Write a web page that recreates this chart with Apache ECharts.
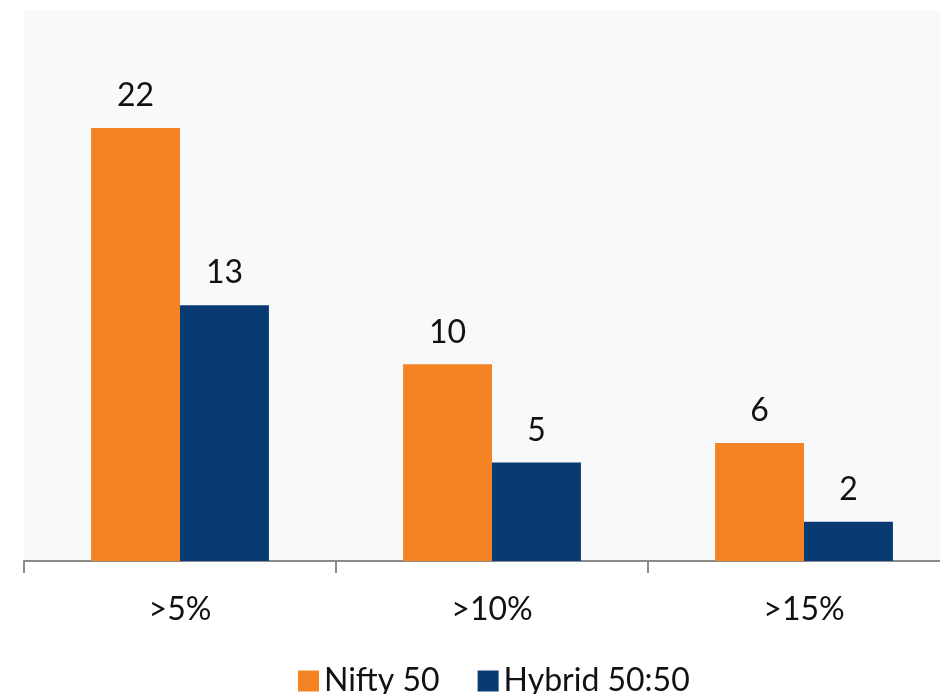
<!DOCTYPE html>
<html>
<head>
<meta charset="utf-8">
<script src="https://cdn.jsdelivr.net/npm/echarts@6/dist/echarts.min.js"></script>
<style>
  html, body { margin: 0; padding: 0; background: #ffffff; }
  #chart { width: 940px; height: 694px; }
</style>
</head>
<body>
<div id="chart"></div>
<script>
// 分组柱状图
const categories = ['>5%', '>10%', '>15%']
const niftyValues = [22, 10, 6]
const hybridValues = [13, 5, 2]
const seriesNames = ['Nifty 50', 'Hybrid 50:50']

const fontFamily = 'Lato, "Open Sans", sans-serif'
const labelStyle = {
  show: true,
  position: 'top',
  distance: 16,
  color: '#111111',
  fontSize: 32,
  fontFamily: fontFamily,
}

const option = {
  backgroundColor: '#ffffff',
  animation: false,
  color: ['#F48323', '#093A72'],
  grid: {
    left: 24,
    top: 10,
    width: 936,
    height: 551,
    show: true,
    backgroundColor: '#F8F9FB',
    borderWidth: 0,
    outerBoundsMode: 'none',
  },
  legend: {
    left: 293,
    top: 660,
    itemWidth: 21,
    itemHeight: 21,
    itemGap: 38,
    icon: 'rect',
    textStyle: {
      color: '#111111',
      fontSize: 32,
      fontFamily: fontFamily,
    },
    data: seriesNames,
  },
  xAxis: {
    type: 'category',
    data: categories,
    axisLine: { lineStyle: { color: '#8A8A8A', width: 2 } },
    axisTick: { show: true, length: 12, lineStyle: { color: '#8A8A8A', width: 2 } },
    axisLabel: {
      margin: 33,
      color: '#111111',
      fontSize: 32,
      fontFamily: fontFamily,
    },
  },
  yAxis: {
    type: 'value',
    min: 0,
    max: 28,
    show: false,
    splitLine: { show: false },
  },
  series: [
    {
      name: seriesNames[0],
      type: 'bar',
      data: niftyValues,
      barGap: '0%',
      barCategoryGap: '43%',
      label: labelStyle,
    },
    {
      name: seriesNames[1],
      type: 'bar',
      data: hybridValues,
      barGap: '0%',
      barCategoryGap: '43%',
      label: labelStyle,
    },
  ],
}

const myChart = echarts.init(document.getElementById('chart'))
myChart.setOption(option, true)
</script>
</body>
</html>
